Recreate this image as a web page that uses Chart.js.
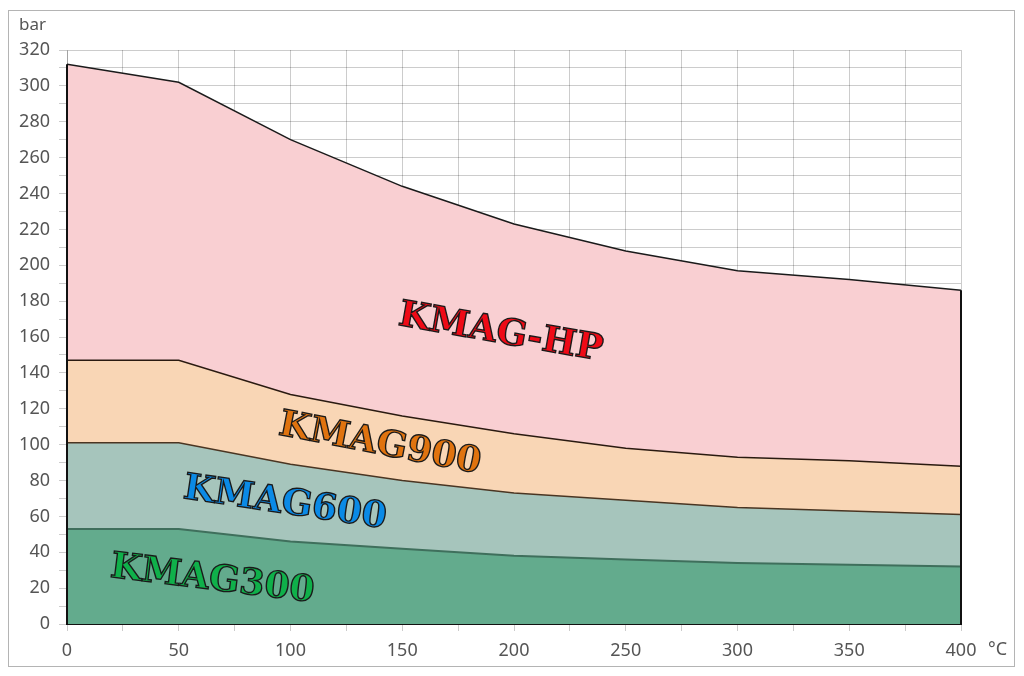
<!DOCTYPE html>
<html>
<head>
<meta charset="utf-8">
<script src="https://cdn.jsdelivr.net/npm/chart.js@4/dist/chart.umd.min.js"></script>
<style>
    html, body { margin: 0; padding: 0; background: #fff; }
    #wrap { width: 1024px; height: 676px; position: relative; }
</style>
</head>
<body>
<div id="wrap"><canvas id="chart"></canvas></div>
<script>
// Pressure / temperature ratings
const temps = [0, 50, 100, 150, 200, 250, 300, 350, 400];
const kmag300 = [53, 53, 46, 42, 38, 36, 34, 33, 32];
const kmag600 = [101, 101, 89, 80, 73, 69, 65, 63, 61];
const kmag900 = [147, 147, 128, 116, 106, 98, 93, 91, 88];
const kmagHP = [312, 302, 270, 244, 223, 208, 197, 192, 186];

const seriesNames = ['KMAG300', 'KMAG600', 'KMAG900', 'KMAG-HP'];

// label anchors (data units) and tilt
const labelSpots = [
    { text: 'KMAG-HP', x: 194, y: 162, angle: 10, color: '#ee0a16' },
    { text: 'KMAG900', x: 140, y: 100, angle: 11, color: '#e0730f' },
    { text: 'KMAG600', x: 97.5, y: 67, angle: 8.5, color: '#0a8ae6' },
    { text: 'KMAG300', x: 65, y: 24.5, angle: 7, color: '#0fb04a' }
];

function toPoints(values) {
    return temps.map((t, i) => ({ x: t, y: values[i] }));
}

// Frame, units and rotated series names
const extrasPlugin = {
    id: 'extras',
    beforeDraw(chart) {
        const ctx = chart.ctx;
        ctx.save();
        ctx.fillStyle = '#fff';
        ctx.fillRect(0, 0, chart.width, chart.height);
        ctx.strokeStyle = '#b4b4b4';
        ctx.lineWidth = 1;
        ctx.strokeRect(8.5, 10.5, 1006, 656);
        ctx.restore();
    },
    afterDraw(chart) {
        const ctx = chart.ctx;
        const xs = chart.scales.x;
        const ys = chart.scales.y;
        ctx.save();

        // closing edges of the filled area
        const last = temps.length - 1;
        ctx.strokeStyle = '#111';
        ctx.lineWidth = 2;
        ctx.beginPath();
        ctx.moveTo(xs.getPixelForValue(temps[last]), ys.getPixelForValue(0));
        ctx.lineTo(xs.getPixelForValue(temps[last]), ys.getPixelForValue(kmagHP[last]));
        ctx.moveTo(xs.getPixelForValue(temps[0]), ys.getPixelForValue(0));
        ctx.lineTo(xs.getPixelForValue(temps[0]), ys.getPixelForValue(kmagHP[0]));
        ctx.stroke();

        ctx.fillStyle = '#555';
        ctx.font = '17px "Noto Sans", sans-serif';
        ctx.textBaseline = 'middle';
        ctx.textAlign = 'left';
        ctx.fillText('bar', 19, 25);
        ctx.font = '18px "Noto Sans", sans-serif';
        ctx.fillText('°C', 988, 650);

        labelSpots.forEach(s => {
            const px = xs.getPixelForValue(s.x);
            const py = ys.getPixelForValue(s.y);
            ctx.save();
            ctx.translate(px, py);
            ctx.rotate(s.angle * Math.PI / 180);
            ctx.font = 'bold 36px "DejaVu Serif", serif';
            ctx.textAlign = 'center';
            ctx.textBaseline = 'middle';
            ctx.fillStyle = s.color;
            ctx.fillText(s.text, 0, 0);
            ctx.strokeStyle = '#1a1a1a';
            ctx.lineWidth = 1.4;
            ctx.strokeText(s.text, 0, 0);
            ctx.restore();
        });
        ctx.restore();
    }
};

const gridColor = 'rgba(0,0,0,0.2)';
const tickFont = { size: 18, family: '"Noto Sans", sans-serif' };

new Chart(document.getElementById('chart'), {
    type: 'line',
    data: {
        datasets: [
            {
                label: seriesNames[0],
                data: toPoints(kmag300),
                borderColor: '#3f6f5c',
                backgroundColor: '#63ab8d',
                borderWidth: 2,
                fill: 'origin'
            },
            {
                label: seriesNames[1],
                data: toPoints(kmag600),
                borderColor: '#4a3522',
                backgroundColor: '#a6c5bc',
                borderWidth: 1.5,
                fill: '-1'
            },
            {
                label: seriesNames[2],
                data: toPoints(kmag900),
                borderColor: '#2a1a10',
                backgroundColor: '#f9d6b5',
                borderWidth: 1.5,
                fill: '-1'
            },
            {
                label: seriesNames[3],
                data: toPoints(kmagHP),
                borderColor: '#1a1a1a',
                backgroundColor: '#f9cfd2',
                borderWidth: 1.5,
                fill: '-1'
            }
        ]
    },
    options: {
        responsive: true,
        maintainAspectRatio: false,
        animation: false,
        layout: {
            padding: { left: 0, top: 50, right: 63, bottom: 0 }
        },
        elements: {
            point: { radius: 0 },
            line: { tension: 0 }
        },
        plugins: {
            legend: { display: false },
            tooltip: { enabled: false }
        },
        scales: {
            x: {
                type: 'linear',
                min: 0,
                max: 400,
                z: 1,
                afterFit(scale) { scale.height = 52; },
                border: { color: '#111', width: 2 },
                grid: { color: gridColor, tickLength: 7 },
                ticks: {
                    stepSize: 25,
                    autoSkip: false,
                    maxRotation: 0,
                    color: '#555',
                    font: tickFont,
                    padding: 9,
                    callback: v => (v % 50 === 0 ? v : '')
                }
            },
            y: {
                min: 0,
                max: 320,
                z: 1,
                afterFit(scale) { scale.width = 67; },
                border: { color: gridColor, width: 1 },
                grid: { color: gridColor, tickLength: 8 },
                ticks: {
                    stepSize: 10,
                    autoSkip: false,
                    color: '#555',
                    font: tickFont,
                    padding: 9,
                    callback: v => (v % 20 === 0 ? v : '')
                }
            }
        }
    },
    plugins: [extrasPlugin]
});
</script>
</body>
</html>
